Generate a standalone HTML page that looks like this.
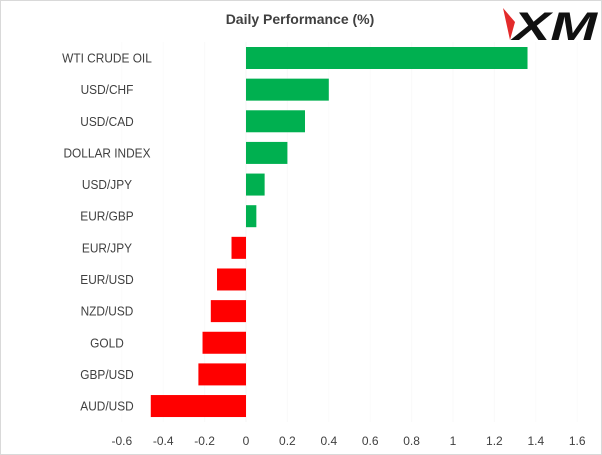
<!DOCTYPE html>
<html><head><meta charset="utf-8"><style>
body{margin:0;background:#fff;}
svg{display:block;font-family:"Liberation Sans",sans-serif;}
</style></head><body>
<svg id="c" width="602" height="455" viewBox="0 0 602 455">
<rect x="0.5" y="0.5" width="601" height="454" fill="#fff" stroke="#d9d9d9"/>
<text x="300" y="24" text-anchor="middle" font-size="14" font-weight="bold" fill="#404040">Daily Performance (%)</text>
<g>
<polygon points="503,8 515,22 510,40" fill="#e32b2b"/>
<text x="513" y="40" font-size="40" font-weight="bold" font-style="italic" fill="#111" textLength="84" lengthAdjust="spacingAndGlyphs">XM</text>
</g>
<g id="grid"></g><g id="bars"></g><g id="cats"></g><g id="ticks"></g>
</svg>
<script>
const categories=["WTI CRUDE OIL","USD/CHF","USD/CAD","DOLLAR INDEX","USD/JPY","EUR/GBP","EUR/JPY","EUR/USD","NZD/USD","GOLD","GBP/USD","AUD/USD"];
const values=[1.36,0.40,0.285,0.20,0.09,0.05,-0.07,-0.14,-0.17,-0.21,-0.23,-0.46];
const tickValues=[-0.6,-0.4,-0.2,0,0.2,0.4,0.6,0.8,1,1.2,1.4,1.6];
const tickLabels=["-0.6","-0.4","-0.2","0","0.2","0.4","0.6","0.8","1","1.2","1.4","1.6"];
const NS="http://www.w3.org/2000/svg";
const x=v=>246+v*207;
const y=i=>58+i*31.64;
function mk(t,a,p){const e=document.createElementNS(NS,t);for(const k in a)e.setAttribute(k,a[k]);p.appendChild(e);return e;}
const grid=document.getElementById('grid'),bars=document.getElementById('bars'),cats=document.getElementById('cats'),ticks=document.getElementById('ticks');
tickValues.forEach((v,i)=>{
 const l=mk('line',{x1:x(v),x2:x(v),y1:42,y2:422,stroke:'#fafafa'},grid);
 
 
 const t=mk('text',{x:x(v),y:445,'text-anchor':'middle','font-size':12,fill:'#404040'},ticks);
 t.textContent=tickLabels[i];
 
 
});
categories.forEach((c,i)=>{
 const v=values[i];
 const r=mk('rect',{x:Math.min(x(0),x(v)),y:y(i)-11,width:Math.abs(x(v)-x(0)),height:22,fill:v>=0?'#00b050':'#ff0000'},bars);
 
 
 const t=mk('text',{x:x(0)-139,y:y(i)+4.5,'text-anchor':'middle','font-size':12.5,fill:'#404040',transform:'translate('+(x(0)-139)+',0) scale(0.95,1) translate('+(-(x(0)-139))+',0)'},cats);
 t.textContent=c;
 
 
});
const ax=mk('line',{x1:x(0),x2:x(0),y1:42,y2:422,stroke:'#f5f5f5'},grid);


</script>
</body></html>
